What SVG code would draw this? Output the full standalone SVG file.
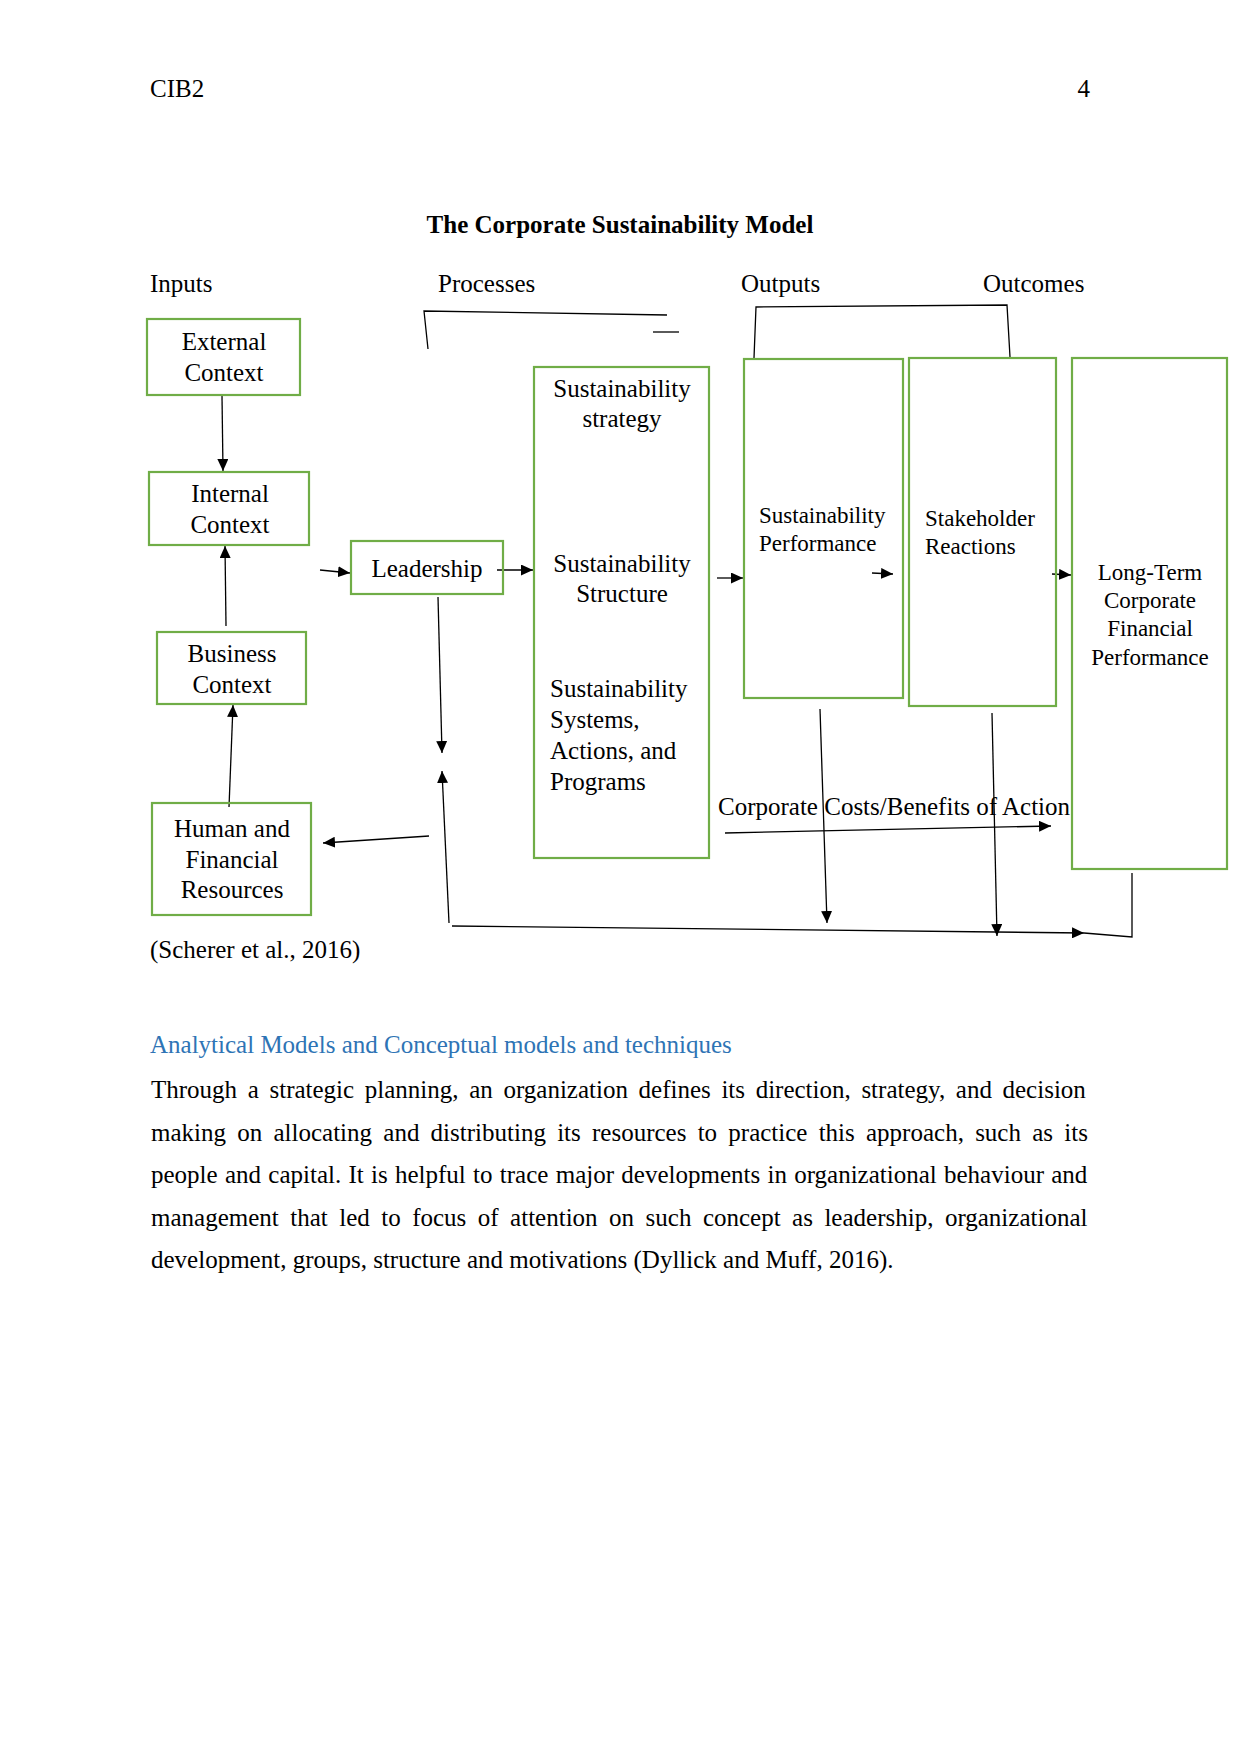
<svg xmlns="http://www.w3.org/2000/svg" width="1241" height="1754" viewBox="0 0 1241 1754">
<defs>
<marker id="ah" markerUnits="userSpaceOnUse" markerWidth="12" markerHeight="11" refX="12" refY="5.5" orient="auto">
<path d="M0,0 L12,5.5 L0,11 z" fill="#000"/>
</marker>
<style>
text{font-family:"Liberation Serif","Times New Roman",serif;fill:#000}
.t{font-size:25px}
.s{font-size:23px}
.c{text-anchor:middle}
.b{font-weight:bold}
.box{fill:none;stroke:#70AD47;stroke-width:2.2}
.ln{fill:none;stroke:#000;stroke-width:1.3}
.ar{fill:none;stroke:#000;stroke-width:1.3;marker-end:url(#ah)}
.h{fill:#2E74B5}
</style>
</defs>
<rect width="1241" height="1754" fill="#fff"/>

<g id="header">
<text class="t" x="150" y="97">CIB2</text>
<text class="t" x="1090" y="97" text-anchor="end">4</text>
<text class="t b c" x="620" y="233">The Corporate Sustainability Model</text>
<text class="t" x="150" y="292">Inputs</text>
<text class="t" x="438" y="292">Processes</text>
<text class="t" x="741" y="292">Outputs</text>
<text class="t" x="983" y="292">Outcomes</text>
</g>

<g id="connectors">
<path class="ar" d="M222,396 L223,471"/>
<path class="ar" d="M226,626 L225,546"/>
<path class="ar" d="M229,807 L233,705"/>
<path class="ar" d="M320,570 L350,573"/>
<path class="ar" d="M497,570 L533,570"/>
<path class="ar" d="M438,597 L442,753"/>
<path class="ar" d="M449,923 L442,771"/>
<path class="ar" d="M429,836 L323,843"/>
<path class="ar" d="M452,926 L1084,933"/>
<path class="ln" d="M1084,933 L1132,937 L1132,873"/>
<path class="ar" d="M820,709 L827,923"/>
<path class="ar" d="M992,713 L997,936"/>
<path class="ar" d="M725,833 L1051,826"/>
<path class="ar" d="M717,578 L743,578"/>
<path class="ar" d="M872,573 L893,574"/>
<path class="ar" d="M1052,574 L1071,575"/>
<path class="ln" d="M428,349 L424,311 L667,315"/>
<path class="ln" d="M653,332 L679,332"/>
<path class="ln" d="M754,358 L756,307 L1007,305 L1010,357"/>
</g>

<g id="external-context">
<rect class="box" x="147" y="319" width="153" height="76"/>
<text class="t c" x="224" y="350">External</text>
<text class="t c" x="224" y="381">Context</text>
</g>

<g id="internal-context">
<rect class="box" x="149" y="472" width="160" height="73"/>
<text class="t c" x="230" y="502">Internal</text>
<text class="t c" x="230" y="533">Context</text>
</g>

<g id="business-context">
<rect class="box" x="157" y="632" width="149" height="72"/>
<text class="t c" x="232" y="662">Business</text>
<text class="t c" x="232" y="693">Context</text>
</g>

<g id="human-financial">
<rect class="box" x="152" y="803" width="159" height="112"/>
<text class="t c" x="232" y="837">Human and</text>
<text class="t c" x="232" y="868">Financial</text>
<text class="t c" x="232" y="898">Resources</text>
</g>

<g id="leadership">
<rect class="box" x="351" y="541" width="152" height="53"/>
<text class="t c" x="427" y="577">Leadership</text>
</g>

<g id="processes">
<rect class="box" x="534" y="367" width="175" height="491"/>
<text class="t c" x="622" y="397">Sustainability</text>
<text class="t c" x="622" y="427">strategy</text>
<text class="t c" x="622" y="572">Sustainability</text>
<text class="t c" x="622" y="602">Structure</text>
<text class="t" x="550" y="697">Sustainability</text>
<text class="t" x="550" y="728">Systems,</text>
<text class="t" x="550" y="759">Actions, and</text>
<text class="t" x="550" y="790">Programs</text>
</g>

<g id="sustainability-performance">
<rect class="box" x="744" y="359" width="159" height="339"/>
<text class="s" x="759" y="523">Sustainability</text>
<text class="s" x="759" y="551">Performance</text>
</g>

<g id="stakeholder-reactions">
<rect class="box" x="909" y="358" width="147" height="348"/>
<text class="s" x="925" y="526">Stakeholder</text>
<text class="s" x="925" y="554">Reactions</text>
</g>

<g id="long-term">
<rect class="box" x="1072" y="358" width="155" height="511"/>
<text class="s c" x="1150" y="580">Long-Term</text>
<text class="s c" x="1150" y="608">Corporate</text>
<text class="s c" x="1150" y="636">Financial</text>
<text class="s c" x="1150" y="665">Performance</text>
</g>

<g id="costs-label">
<text class="t" x="718" y="815">Corporate Costs/Benefits of Action</text>
</g>

<g id="body">
<text class="t" x="150" y="958">(Scherer et al., 2016)</text>
<text class="t h" x="150" y="1053">Analytical Models and Conceptual models and techniques</text>
<text class="t" x="151" y="1098" word-spacing="4.39">Through a strategic planning, an organization defines its direction, strategy, and decision</text>
<text class="t" x="151" y="1141" word-spacing="4.99">making on allocating and distributing its resources to practice this approach, such as its</text>
<text class="t" x="151" y="1183" word-spacing="1.04">people and capital. It is helpful to trace major developments in organizational behaviour and</text>
<text class="t" x="151" y="1226" word-spacing="5.24">management that led to focus of attention on such concept as leadership, organizational</text>
<text class="t" x="151" y="1268">development, groups, structure and motivations (Dyllick and Muff, 2016).</text>
</g>
</svg>
